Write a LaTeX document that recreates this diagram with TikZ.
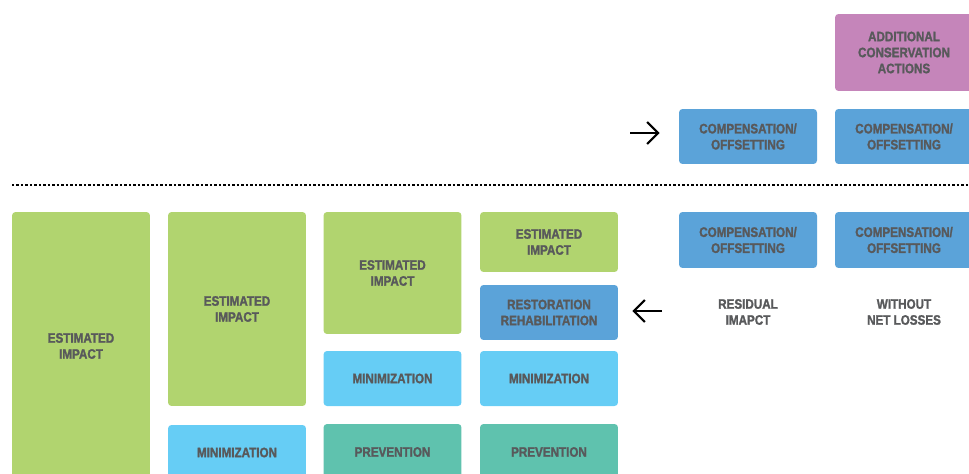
\documentclass[tikz,border=0pt]{standalone}
\usepackage{fontspec}
\setmainfont{Liberation Sans}[FakeStretch=0.85,
	BoldFont=Liberation Sans Bold, BoldFeatures={FakeBold=1.6}]
\usepackage{xcolor}
\usetikzlibrary{arrows.meta}

\definecolor{impact}{HTML}{B1D46F}
\definecolor{minim}{HTML}{66CDF5}
\definecolor{prev}{HTML}{5FC2AE}
\definecolor{comp}{HTML}{5BA3D9}
\definecolor{extra}{HTML}{C585BA}
\definecolor{txt}{HTML}{58595B}

\begin{document}
\begin{tikzpicture}[x=0.02cm,y=-0.02cm,
	box/.style={rounded corners=2pt, inner sep=0pt, minimum width=2.76cm, align=center,
		text=txt, font=\fontsize{7.8}{9.1}\selectfont\bfseries},
	lbl/.style={align=center, text=txt, font=\fontsize{7.8}{9.1}\selectfont\bfseries},
	arr/.style={-{Straight Barb[length=0.22cm,width=0.44cm]}, line width=1.2pt}]
	\useasboundingbox (0,0) rectangle (969,473);
	\clip (0,0) rectangle (969,473);

	% upper part
	\node[box, fill=extra, minimum height=1.54cm] (add) at (904,52.5) {ADDITIONAL\\CONSERVATION\\ACTIONS};
	\node[box, fill=comp, minimum height=1.1cm] (compA) at (748,136.5) {COMPENSATION/\\OFFSETTING};
	\node[box, fill=comp, minimum height=1.1cm] (compB) at (904,136.5) {COMPENSATION/\\OFFSETTING};
	\coordinate (inA) at (630,133);
	\draw[arr, shorten >=0.38cm] (inA) -- (compA.west |- inA);

	\draw[line width=0.045cm, dash pattern=on 0.045cm off 0.045cm] (12,185) -- (969,185);

	% first column
	\node[box, fill=impact, minimum height=5.36cm] (est1) at (81,346) {ESTIMATED\\IMPACT};

	% second column
	\node[box, fill=impact, minimum height=3.88cm] (est2) at (237,309) {ESTIMATED\\IMPACT};
	\node[box, fill=minim, minimum height=1.1cm] (min2) at (237,452.5) {MINIMIZATION};

	% third column
	\node[box, fill=impact, minimum height=2.44cm] (est3) at (392.5,273) {ESTIMATED\\IMPACT};
	\node[box, fill=minim, minimum height=1.1cm] (min3) at (392.5,378.5) {MINIMIZATION};
	\node[box, fill=prev, minimum height=1.12cm] (prev3) at (392.5,452) {PREVENTION};

	% fourth column
	\node[box, fill=impact, minimum height=1.2cm] (est4) at (549,242) {ESTIMATED\\IMPACT};
	\node[box, fill=comp, minimum height=1.1cm] (resto) at (549,312.5) {RESTORATION\\REHABILITATION};
	\node[box, fill=minim, minimum height=1.1cm] (min4) at (549,378.5) {MINIMIZATION};
	\node[box, fill=prev, minimum height=1.12cm] (prev4) at (549,452) {PREVENTION};

	% residual side
	\node[box, fill=comp, minimum height=1.12cm] (compC) at (748,240) {COMPENSATION/\\OFFSETTING};
	\node[box, fill=comp, minimum height=1.12cm] (compD) at (904,240) {COMPENSATION/\\OFFSETTING};
	\node[lbl] (resid) at (748,312) {RESIDUAL\\IMAPCT};
	\node[lbl] (noloss) at (904,312) {WITHOUT\\NET LOSSES};
	\coordinate (inB) at (662,311);
	\draw[arr, shorten >=0.28cm] (inB) -- (resto.east |- inB);
\end{tikzpicture}
\end{document}
